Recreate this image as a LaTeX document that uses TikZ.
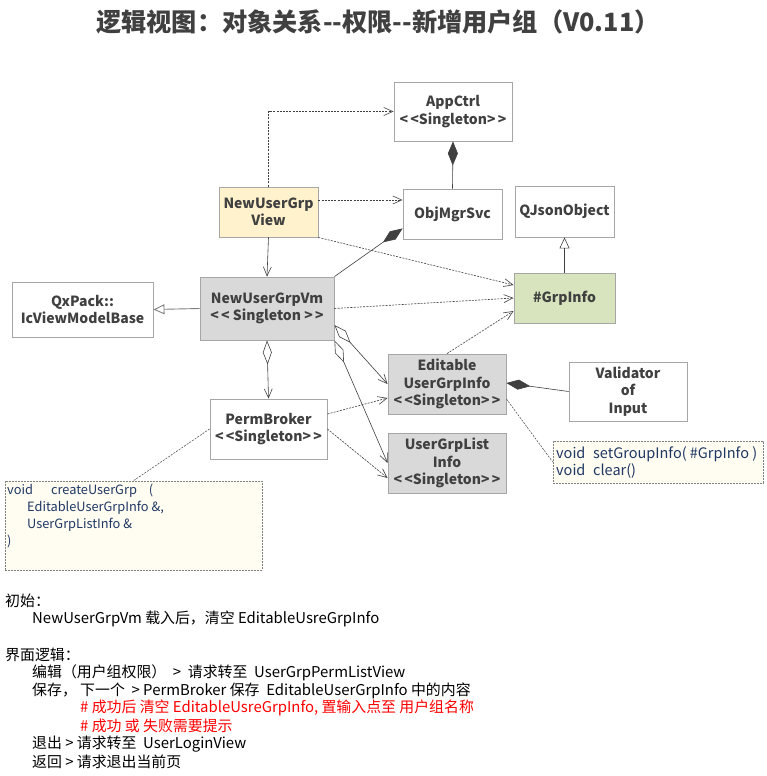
\documentclass[tikz,border=0pt]{standalone}
\usepackage{fontspec}
\setmainfont{Noto Sans CJK SC}[Ligatures=TeXOff]
\usetikzlibrary{arrows.meta}
\definecolor{bordergray}{HTML}{A6A6A6}
\definecolor{boxgrayfill}{HTML}{D9D9D9}
\definecolor{viewfill}{HTML}{FFF2CC}
\definecolor{grpfill}{HTML}{D7E4BD}
\definecolor{notefill}{HTML}{FFFCF2}
\definecolor{notetext}{HTML}{1F3864}
\definecolor{txtgray}{HTML}{404040}
\definecolor{linegray}{HTML}{404040}
\begin{document}
\begin{tikzpicture}[x=1pt,y=-1pt,
  box/.style={draw=bordergray, line width=0.9pt, fill=white, align=center, inner sep=0pt,
    text=txtgray, font=\fontsize{14}{17.5}\selectfont\bfseries},
  notebox/.style={draw=gray, dashed, dash pattern=on 2pt off 1pt, line width=0.6pt, fill=notefill, inner sep=0pt},
  notetxt/.style={text=notetext, align=left, inner sep=0pt, font=\fontsize{12.8}{17}\selectfont},
  conn/.style={draw=linegray, line width=0.6pt},
  dep/.style={conn, dash pattern=on 2pt off 1.2pt, -{Straight Barb[length=9pt,width=8pt]}},
  assoc/.style={conn, -{Straight Barb[length=9pt,width=8pt]}},
  compo/.style={conn, {Diamond[length=24pt,width=10pt]}-},
  aggr/.style={conn, {Diamond[open,length=24pt,width=9pt]}-{Straight Barb[length=9pt,width=8pt]}},
  inherit/.style={conn, -{Triangle[open,length=11pt,width=10pt]}},
  plain/.style={text=black, anchor=west, inner sep=0pt, font=\fontsize{14.9}{16}\selectfont}
]
\useasboundingbox (0,0) rectangle (767,776);
\fill[white] (0,0) rectangle (767,776);

\node[text=txtgray, font=\fontsize{25.2}{28}\selectfont\bfseries, inner sep=0pt] (title) at (378,22) {逻辑视图：对象关系--权限--新增用户组（V0.11）};

% boxes
\node[box, minimum width=118pt, minimum height=59pt] (app) at (453,111.5) {AppCtrl\\<\,<Singleton>\,>};
\node[box, minimum width=99pt, minimum height=50pt] (obj) at (452.5,214) {ObjMgrSvc};
\node[box, minimum width=99pt, minimum height=51pt] (qjson) at (564.5,211.5) {QJsonObject};
\node[box, fill=viewfill, minimum width=99pt, minimum height=50pt] (view) at (268.5,212) {NewUserGrp\\View};
\node[box, fill=grpfill, minimum width=101pt, minimum height=50pt] (grp) at (564.5,298) {\#GrpInfo};
\node[box, fill=boxgrayfill, minimum width=134pt, minimum height=63pt] (vm) at (267,308.5) {NewUserGrpVm\\<\,< Singleton >\,>};
\node[box, minimum width=141pt, minimum height=55pt] (qx) at (82.5,309.5) {QxPack::\\IcViewModelBase};
\node[box, fill=boxgrayfill, minimum width=118pt, minimum height=60pt] (edit) at (447,384) {Editable\\UserGrpInfo\\<\,<Singleton>\,>};
\node[box, minimum width=118pt, minimum height=59pt] (valid) at (628,391.5) {Validator\\of\\Input};
\node[box, minimum width=117pt, minimum height=60pt] (perm) at (268.5,429) {PermBroker\\<\,<Singleton>\,>};
\node[box, fill=boxgrayfill, minimum width=118pt, minimum height=60pt] (list) at (447,463) {UserGrpList\\Info\\<\,<Singleton>\,>};

% notes
\node[notebox, minimum width=210pt, minimum height=42pt] (note1) at (658,462) {};
\node[notetxt, anchor=west, font=\fontsize{14.5}{17}\selectfont] (note1t) at (556,462) {\makebox[37pt][l]{void}setGroupInfo( \#GrpInfo )\\\makebox[37pt][l]{void}clear()};
\node[notebox, minimum width=257pt, minimum height=89pt] (note2) at (133.5,525.5) {};
\node[notetxt, anchor=north west] (note2t) at (7,484) {void\hspace{18pt}createUserGrp\hspace{12pt}(\\\hspace*{20pt}EditableUserGrpInfo \&,\\\hspace*{20pt}UserGrpListInfo \&\\)};

% connectors
\draw[dep] (view.north) |- (app.west);
\draw[dep] ([yshift=12pt]view.east) -- ([yshift=14pt]obj.west);
\draw[compo] (app.south) -- (obj.north);
\draw[compo] ([yshift=11pt]obj.south west) -- (vm.north east);
\draw[dep] (view.south east) -- ([yshift=13pt]grp.west);
\draw[assoc] (view.south) -- (vm.north);
\draw[dep] (vm.east) -- (grp.west);
\draw[inherit] (grp.north) -- (qjson.south);
\draw[inherit, draw=gray, line width=0.9pt] (vm.west) -- (qx.east);
\draw[aggr] (vm.south) -- (perm.north);
\draw[aggr] ([yshift=-16.5pt]vm.east) -- (edit.west);
\draw[aggr] (vm.south east) -- (list.west);
\draw[dep] ([yshift=15pt]perm.east) -- ([yshift=-14pt]edit.west);
\draw[dep] (perm.east) -- ([yshift=-15pt]list.west);
\draw[dep] (edit.north) -- ([yshift=-13pt]grp.west);
\draw[compo] ([yshift=1pt]edit.east) -- (valid.west);
\draw[conn, dash pattern=on 2pt off 1.2pt, line width=0.5pt] ([yshift=-15pt]edit.east) -- (note1.west);
\draw[conn, dash pattern=on 2pt off 1.2pt, line width=0.5pt] (perm.west) -- (note2.north);

% bottom text
\node[plain] (t1) at (5,601) {初始：};
\node[plain] (t2) at (32,619) {NewUserGrpVm 载入后，清空 EditableUsreGrpInfo};
\node[plain] (t3) at (5,655) {界面逻辑：};
\node[plain] (t4) at (32,673) {编辑（用户组权限）\ \ >\ \ 请求转至\ \ UserGrpPermListView};
\node[plain] (t5) at (32,691) {保存，\ 下一个\ \ > PermBroker 保存\ \ EditableUserGrpInfo 中的内容};
\node[plain, text=red] (t6) at (80,708) {\# 成功后 清空 EditableUsreGrpInfo, 置输入点至 用户组名称};
\node[plain, text=red] (t7) at (80,726) {\# 成功 或 失败需要提示};
\node[plain] (t8) at (32,744) {退出 > 请求转至\ \ UserLoginView};
\node[plain] (t9) at (32,762) {返回 > 请求退出当前页};
\end{tikzpicture}
\end{document}
